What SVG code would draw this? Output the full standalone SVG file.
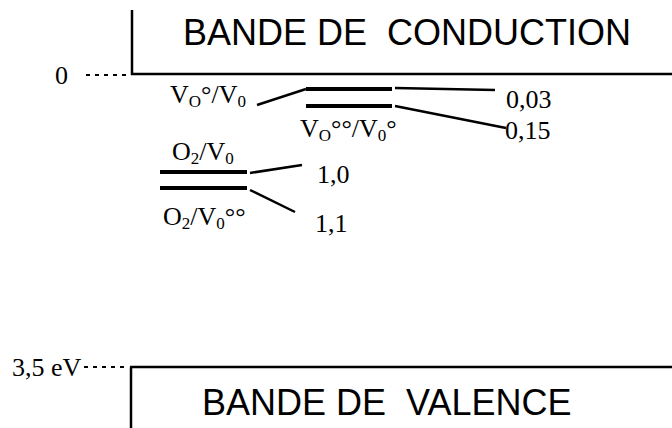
<svg xmlns="http://www.w3.org/2000/svg" width="672" height="428" viewBox="0 0 672 428">
<style>
.band{font-family:"Liberation Sans",Arial,sans-serif;font-size:36px;fill:#000;white-space:pre}
.lbl{font-family:"Liberation Serif","Times New Roman",serif;font-size:26px;fill:#000}
.sub{font-size:17px}
.axis{stroke:#000;stroke-width:2.5;fill:none}
.dots{stroke:#000;stroke-width:2;stroke-dasharray:4 5;fill:none}
.bar{stroke:#000;stroke-width:4;fill:none}
.conn{stroke:#000;stroke-width:2.5;fill:none}
</style>
<rect width="672" height="428" fill="#fff"/>
<g id="conduction-band">
<line class="axis" x1="132" y1="10" x2="132" y2="75"/>
<line class="axis" x1="131" y1="74" x2="672" y2="74"/>
<line class="dots" x1="86" y1="75" x2="130" y2="75"/>
<text class="lbl" x="55" y="84">0</text>
<text class="band" x="183" y="45" xml:space="preserve">BANDE DE  CONDUCTION</text>
</g>
<g id="valence-band">
<line class="axis" x1="130" y1="367" x2="672" y2="367"/>
<line class="axis" x1="131" y1="367" x2="131" y2="428"/>
<line class="dots" x1="84" y1="367" x2="129" y2="367"/>
<text class="lbl" x="12" y="376">3,5 eV</text>
<text class="band" x="202" y="415" xml:space="preserve">BANDE DE  VALENCE</text>
</g>
<g id="level-vo">
<line class="bar" x1="306" y1="89" x2="392" y2="89"/>
<line class="bar" x1="306" y1="106" x2="392" y2="106"/>
<text class="lbl" x="170" y="103">V<tspan class="sub" dy="4">O</tspan><tspan dy="-4">°/V</tspan><tspan class="sub" dy="4">0</tspan></text>
<text class="lbl" x="300" y="137">V<tspan class="sub" dy="4">O</tspan><tspan dy="-4">°°/V</tspan><tspan class="sub" dy="4">0</tspan><tspan dy="-4">°</tspan></text>
<text class="lbl" x="506" y="108">0,03</text>
<text class="lbl" x="505" y="139">0,15</text>
</g>
<g id="level-o2">
<line class="bar" x1="160" y1="172" x2="247" y2="172"/>
<line class="bar" x1="160" y1="188" x2="247" y2="188"/>
<text class="lbl" x="172" y="160">O<tspan class="sub" dy="4">2</tspan><tspan dy="-4">/V</tspan><tspan class="sub" dy="4">0</tspan></text>
<text class="lbl" x="163" y="225">O<tspan class="sub" dy="4">2</tspan><tspan dy="-4">/V</tspan><tspan class="sub" dy="4">0</tspan><tspan dy="-4">°°</tspan></text>
<text class="lbl" x="317" y="183">1,0</text>
<text class="lbl" x="315" y="232">1,1</text>
</g>
<g id="connectors">
<line class="conn" x1="257" y1="105" x2="306" y2="89"/>
<line class="conn" x1="395" y1="88" x2="495" y2="90"/>
<line class="conn" x1="395" y1="106" x2="506" y2="128"/>
<line class="conn" x1="250" y1="173" x2="302" y2="165"/>
<line class="conn" x1="250" y1="190" x2="295" y2="212"/>
</g>
</svg>
